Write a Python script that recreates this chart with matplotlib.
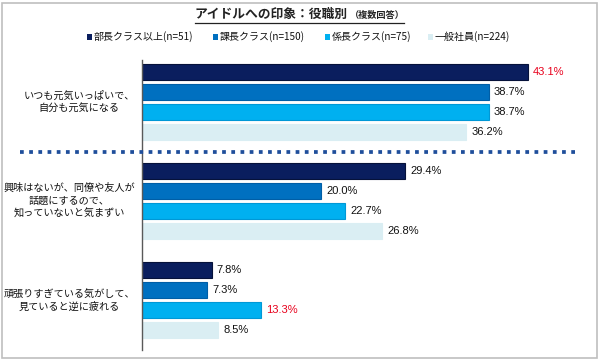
import matplotlib
matplotlib.use("Agg")
import matplotlib.pyplot as plt
from matplotlib.patches import FancyBboxPatch, Rectangle
from matplotlib.lines import Line2D

plt.rcParams['font.family'] = ['Noto Sans CJK JP', 'DejaVu Sans']

categories = ["いつも元気いっぱいで、\n自分も元気になる",
              "興味はないが、同僚や友人が\n話題にするので、\n知っていないと気まずい",
              "頑張りすぎている気がして、\n見ていると逆に疲れる"]
series = ["部長クラス以上(n=51)", "課長クラス(n=150)", "係長クラス(n=75)", "一般社員(n=224)"]
values = [
    [43.1, 29.4, 7.8],   # 部長クラス以上
    [38.7, 20.0, 7.3],   # 課長クラス
    [38.7, 22.7, 13.3],  # 係長クラス
    [36.2, 26.8, 8.5],   # 一般社員
]
highlight = [(0, 0), (2, 2)]  # (series, category) shown in red
colors = ["#0A1E5E", "#0070C0", "#00B0F0", "#DAEEF3"]
edgecolors = ["#06123A", "#005EA6", "#0098D6", "#DAEEF3"]

W, H = 600, 359
fig = plt.figure(figsize=(6, 3.59), dpi=100)

# outer border
fig.patches.append(FancyBboxPatch((1.5 / W, 1.5 / H), 596 / W, 355 / H,
                                  boxstyle="square,pad=0", transform=fig.transFigure,
                                  fill=False, edgecolor="#BFBFBF", linewidth=1.2))

ax_left, ax_right, ax_top, ax_bot = 142, 590, 60, 350
ax = fig.add_axes([ax_left / W, 1 - ax_bot / H, (ax_right - ax_left) / W, (ax_bot - ax_top) / H])
px_per_unit = 8.96
ax.set_xlim(0, (ax_right - ax_left) / px_per_unit)
# y in units of 20 px; first bar center at 72px
ax.set_ylim((ax_bot - 72) / 20, (ax_top - 72) / 20)

group_step = 4.95
for s, name in enumerate(series):
    for g, v in enumerate(values[s]):
        y = g * group_step + s
        ax.barh(y, v, height=0.76, color=colors[s], edgecolor=edgecolors[s], linewidth=0.8)
        col = "#E8001C" if (s, g) in highlight else "#111111"
        ax.text(v + 0.55, y, f"{v:.1f}%", va="center", ha="left", fontsize=8.0,
                color=col, family=["Liberation Sans", "DejaVu Sans"])

for sp in ["top", "right", "bottom"]:
    ax.spines[sp].set_visible(False)
ax.spines["left"].set_color("#595959")
ax.spines["left"].set_linewidth(1.0)
ax.set_xticks([])
ax.set_yticks([])

# category labels
for g, lab in enumerate(categories):
    y = g * group_step + 1.5
    ax.text(-7.0 / px_per_unit, y, lab, ha="right", va="center", multialignment="center",
            fontsize=7.3, color="#111111", linespacing=1.35)

# dotted separator
fig.add_artist(Line2D([20 / W, 576 / W], [1 - 151.5 / H, 1 - 151.5 / H],
                      transform=fig.transFigure, color="#1F4E9B", linewidth=2.7,
                      linestyle=(0, (1.0, 1.45)), solid_capstyle="butt", dash_capstyle="butt"))

# title
fig.text(195 / W, 1 - 14 / H, "アイドルへの印象：役職別", ha="left", va="center",
         fontsize=9.2, fontweight="bold", color="#222222")
fig.text(350 / W, 1 - 15 / H, "（複数回答）", ha="left", va="center",
         fontsize=6.6, fontweight="bold", color="#222222")
fig.add_artist(Line2D([195 / W, 404 / W], [1 - 23 / H, 1 - 23 / H],
                      transform=fig.transFigure, color="#222222", linewidth=0.9))

# legend
leg_x = [87, 213, 325, 428]
for s, name in enumerate(series):
    fig.patches.append(Rectangle((leg_x[s] / W, 1 - 40 / H), 5 / W, 6 / H,
                                 transform=fig.transFigure, facecolor=colors[s],
                                 edgecolor="none"))
    fig.text((leg_x[s] + 7) / W, 1 - 37 / H, name, ha="left", va="center",
             fontsize=7.2, color="#111111")

fig.savefig("out.png", dpi=100, facecolor="white")
